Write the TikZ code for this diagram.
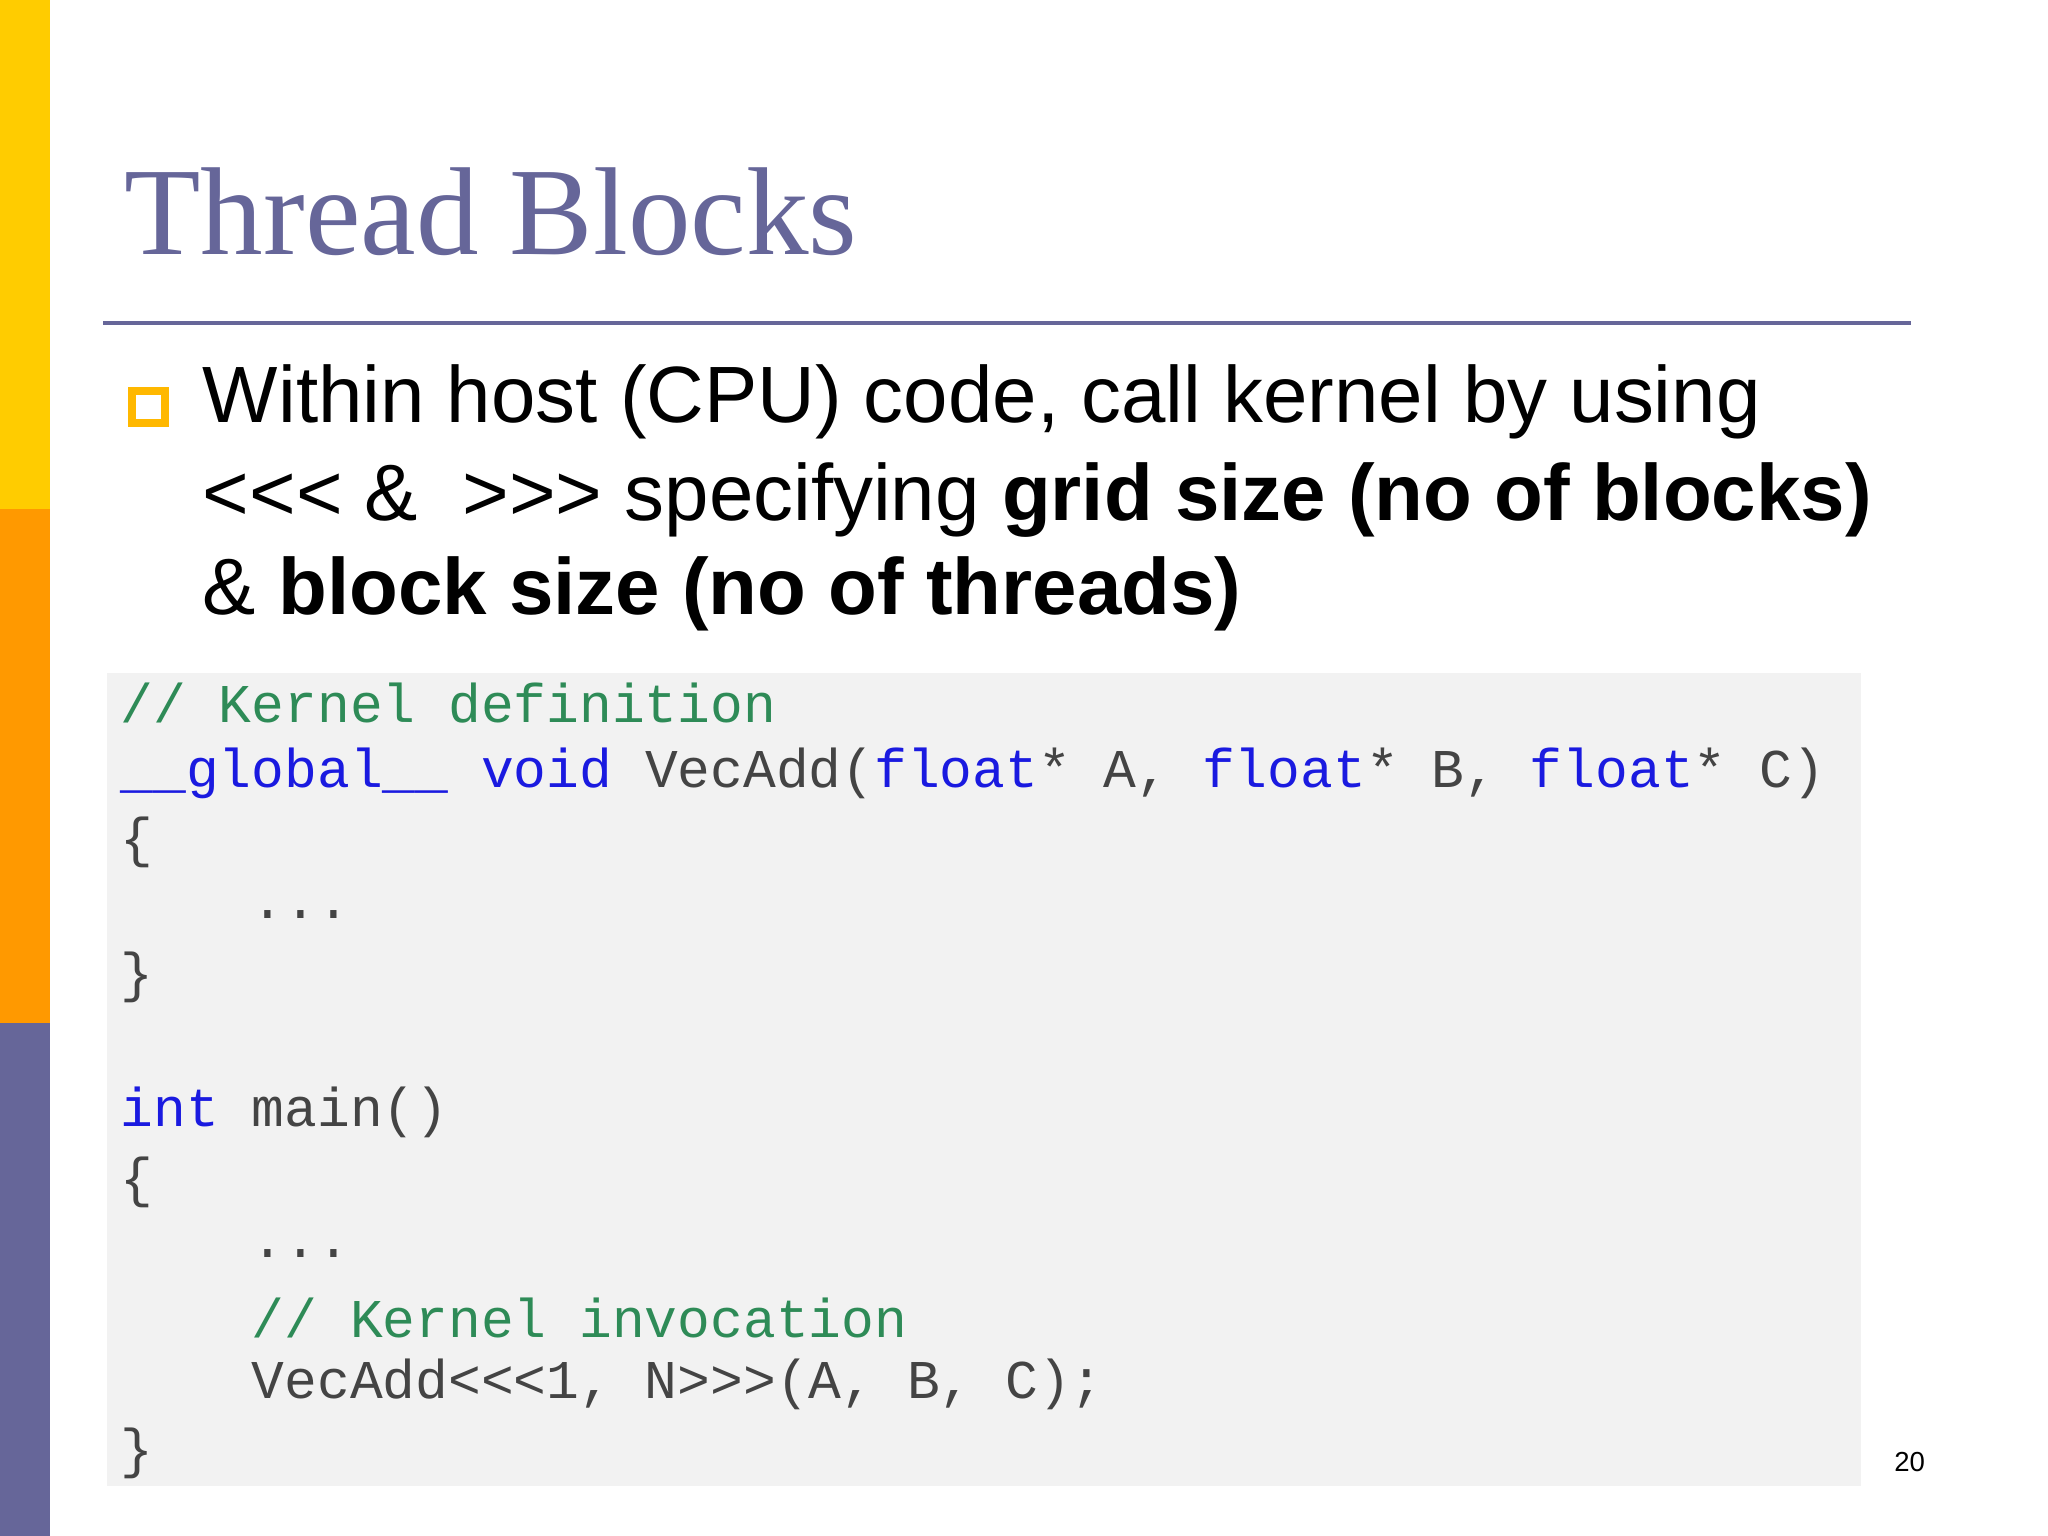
\documentclass[tikz,border=0pt]{standalone}
\usepackage{fontspec}
\setmainfont{Liberation Sans}
\newfontfamily\titlefont{Liberation Serif}
\newfontfamily\codefont{Liberation Mono}
\definecolor{slate}{HTML}{666699}
\definecolor{yelbar}{RGB}{255,204,0}
\definecolor{orabar}{RGB}{255,153,0}
\definecolor{cgreen}{HTML}{2E8B57}
\definecolor{cblue}{HTML}{1A1AE0}
\definecolor{cgray}{HTML}{444444}
\definecolor{boxgray}{HTML}{F2F2F2}
\begin{document}
\begin{tikzpicture}[x=0.02cm,y=-0.02cm,
  bul/.style={anchor=west,inner sep=0,font=\fontsize{34.8}{42}\selectfont},
  code/.style={anchor=west,inner sep=0,font=\codefont\fontsize{23.8}{28}\selectfont,text=cgray}]
\useasboundingbox (0,0) rectangle (1568,1176);
\fill[fill=yelbar] (0,0) rectangle (38,390);
\fill[fill=orabar] (0,390) rectangle (38,783);
\fill[fill=slate] (0,783) rectangle (38,1176);
\node[anchor=west,inner sep=0,text=slate,font=\titlefont\fontsize{54.5}{64}\selectfont] (title) at (95,162) {Thread Blocks};
\draw[slate,line width=1.7pt] (79,247) -- (1463,247);
\draw[yelbar!60!orabar,line width=3.5pt] (101,299) rectangle (126,324);
\node[bul] (l1) at (155,308) {Within host (CPU) code, call kernel by using};
\node[bul] (l2) at (155,383) {<{}<{}< \&\ \ >{}>{}> specifying \textbf{grid size (no of blocks)}};
\node[bul] (l3) at (155,455) {\& \textbf{block size (no of threads)}};
\fill[boxgray] (82,515) rectangle (1425,1138);
\node[code] (c1) at (92,538) {\textcolor{cgreen}{// Kernel definition}};
\node[code] (c2) at (92,592) {\textcolor{cblue}{\_\_global\_\_ void} VecAdd(\textcolor{cblue}{float}* A, \textcolor{cblue}{float}* B, \textcolor{cblue}{float}* C)};
\node[code] (c3) at (92,645) {\{};
\node[code] (c4) at (92,700) {\ \ \ \ ...};
\node[code] (c5) at (92,748) {\}};
\node[code] (c6) at (92,852) {\textcolor{cblue}{int} main()};
\node[code] (c7) at (92,905) {\{};
\node[code] (c8) at (92,960) {\ \ \ \ ...};
\node[code] (c9) at (92,1009) {\ \ \ \ \textcolor{cgreen}{// Kernel invocation}};
\node[code] (c10) at (92,1060) {\ \ \ \ VecAdd<{}<{}<1, N>{}>{}>(A, B, C);};
\node[code] (c11) at (92,1113) {\}};
\node[anchor=center,inner sep=0,font=\fontsize{12}{14}\selectfont] (pg) at (1462,1119) {20};
\end{tikzpicture}
\end{document}
